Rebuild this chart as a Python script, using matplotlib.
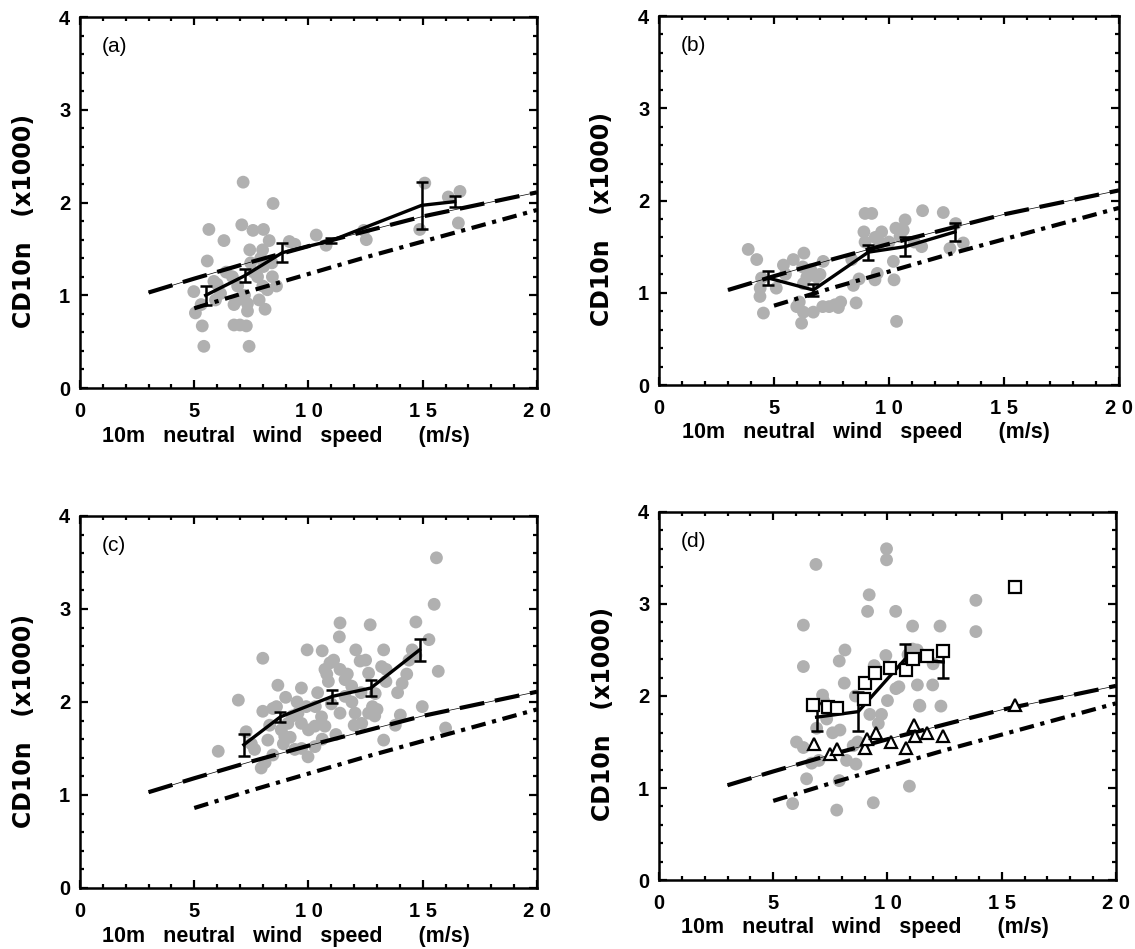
import numpy as np
import matplotlib.pyplot as plt
from matplotlib.ticker import MultipleLocator, FixedLocator, FixedFormatter

# reference curves (same in every panel)
dash_x = [3, 5, 7.5, 10, 12.5, 15, 17.5, 20]
dash_y = [1.03, 1.18, 1.36, 1.53, 1.69, 1.85, 1.98, 2.11]
dd_x = [5, 7.5, 10, 12.5, 15, 17.5, 20]
dd_y = [0.86, 1.05, 1.23, 1.41, 1.58, 1.75, 1.92]

# panel (a)
gray_x_a = [7.14, 8.45, 5.64, 7.08, 7.57, 8.03, 6.3, 8.28, 9.16, 10.34, 10.77, 12.53, 12.42,
            5.57, 7.43, 7.99, 7.91, 7.47, 5.86, 6.67, 4.98, 7.77, 8.42, 8.2, 6.15, 5.93, 6.74,
            7.33, 7.84, 5.05, 7.33, 5.35, 6.74, 7.28, 5.42, 7.4, 15.09, 16.63, 16.12, 16.56,
            14.87, 8.03, 7.0, 6.9, 8.6, 6.0, 6.4, 7.6, 8.0, 8.4, 7.2, 6.9, 9.4, 5.3, 8.1]
gray_y_a = [2.22, 1.99, 1.71, 1.76, 1.70, 1.71, 1.59, 1.59, 1.58, 1.65, 1.54, 1.60, 1.70,
            1.37, 1.49, 1.49, 1.40, 1.35, 1.15, 1.20, 1.04, 1.20, 1.20, 1.06, 1.02, 0.95, 0.90,
            0.91, 0.95, 0.81, 0.83, 0.67, 0.68, 0.67, 0.45, 0.45, 2.21, 2.12, 2.06, 1.78,
            1.71, 1.31, 0.68, 1.10, 1.10, 1.12, 1.25, 1.25, 1.10, 1.35, 1.00, 0.95, 1.55,
            0.90, 0.85]
mean_x_a = [5.5, 7.2, 8.86, 11.0, 14.95, 16.4]
mean_y_a = [1.0, 1.21, 1.46, 1.59, 1.97, 2.01]
err_a = [0.1, 0.07, 0.1, 0.03, 0.25, 0.06]

# panel (b)
gray_x_b = [3.88, 4.25, 4.46, 4.39, 4.54, 5.41, 5.84, 6.3, 6.25, 6.43, 6.86, 6.28, 5.99, 6.28,
            6.71, 6.2, 7.12, 7.65, 7.14, 8.38, 8.45, 8.57, 8.96, 9.25, 8.91, 8.96, 9.68, 9.61,
            9.49, 9.39, 10.19, 10.22, 10.7, 10.62, 10.48, 11.42, 11.46, 12.36, 12.65, 13.23,
            10.33, 7.8, 5.1, 5.5, 6.6, 7.0, 7.4, 7.9, 8.7, 9.4, 10.0, 10.3, 11.1, 12.9, 4.4,
            6.1]
gray_y_b = [1.47, 1.36, 1.16, 0.96, 0.78, 1.30, 1.36, 1.43, 1.28, 1.17, 1.17, 1.10, 0.85, 0.79,
            0.79, 0.67, 0.85, 0.87, 1.34, 1.36, 1.08, 0.89, 1.86, 1.86, 1.66, 1.55, 1.66, 1.54,
            1.21, 1.14, 1.34, 1.14, 1.79, 1.68, 1.61, 1.50, 1.89, 1.87, 1.48, 1.54,
            0.69, 0.84, 1.05, 1.20, 1.25, 1.20, 0.85, 0.90, 1.15, 1.60, 1.55, 1.70, 1.55,
            1.75, 1.05, 0.90]
mean_x_b = [4.75, 6.71, 9.1, 10.7, 12.87]
mean_y_b = [1.16, 1.03, 1.44, 1.50, 1.66]
err_b = [0.08, 0.07, 0.08, 0.1, 0.1]

# panel (c)
gray_x_c = [15.6, 15.5, 14.7, 11.38, 12.7, 11.35, 15.27, 8.0, 9.94, 12.07, 13.29, 14.54, 12.26,
            10.94, 10.72, 11.38, 13.2, 14.4, 15.68, 12.63, 8.66, 9.69, 10.87, 11.6, 13.39, 14.1,
            6.93, 11.6, 8.0, 8.44, 9.1, 9.69, 10.28, 10.72, 11.38, 12.04, 12.63, 13.0, 14.98,
            14.02, 16.0, 8.22, 8.96, 9.4, 10.28, 8.44, 13.29, 9.98, 6.05, 7.64, 7.93, 7.27,
            8.81, 10.57, 12.33, 9.54, 12.92, 11.89, 10.3, 11.0, 9.2,
            9.5, 9.9, 10.4, 10.8, 11.1, 11.7, 12.3, 12.8, 9.0, 8.6, 9.3, 10.0, 10.6, 11.2,
            12.0, 12.9, 13.4, 13.9, 14.3, 14.7, 8.3, 8.9, 11.9, 10.6, 12.5, 9.7, 13.8, 7.5, 8.1]
gray_y_c = [3.55, 3.05, 2.86, 2.85, 2.83, 2.70, 2.67, 2.47, 2.56, 2.56, 2.56, 2.56, 2.44,
            2.42, 2.35, 2.35, 2.38, 2.45, 2.33, 2.31, 2.18, 2.15, 2.22, 2.24, 2.22, 2.20,
            2.02, 2.06, 1.90, 1.93, 1.77, 1.77, 1.74, 1.74, 1.88, 1.88, 1.88, 1.92, 1.95,
            1.86, 1.72, 1.59, 1.63, 1.49, 1.52, 1.43, 1.59, 1.41, 1.47, 1.49, 1.29, 1.68,
            1.70, 1.84, 1.77, 1.88, 2.09, 2.17, 1.95, 1.98, 1.62,
            2.00, 1.95, 2.10, 2.30, 2.45, 2.30, 2.10, 1.95, 2.05, 1.95, 1.85, 1.70, 1.60, 1.65,
            1.75, 1.85, 2.35, 2.10, 2.30, 2.50, 1.75, 1.55, 2.00, 2.55, 2.45, 1.50, 1.75, 1.55,
            1.35]
mean_x_c = [7.17, 8.77, 11.04, 12.73, 14.86]
mean_y_c = [1.54, 1.84, 2.06, 2.15, 2.56]
err_c = [0.12, 0.05, 0.07, 0.09, 0.12]

# panel (d)
gray_x_d = [6.87, 9.96, 9.96, 9.2, 9.13, 10.36, 6.32, 11.1, 12.3, 13.87, 13.87, 8.14, 7.89,
            9.93, 11.1, 6.32, 9.42, 8.11, 10.37, 11.31, 11.98, 7.16, 9.23, 9.74, 11.42, 12.34,
            7.92, 6.02, 6.32, 6.68, 8.21, 8.62, 6.46, 7.89, 10.96, 5.85, 9.38, 7.78, 7.34, 8.5,
            7.2, 6.9, 7.6, 8.6, 9.6, 10.0, 10.5, 10.9, 11.3, 12.0, 11.4, 8.7, 7.0]
gray_y_d = [3.43, 3.60, 3.48, 3.10, 2.92, 2.92, 2.77, 2.76, 2.76, 3.04, 2.70, 2.50, 2.38,
            2.44, 2.51, 2.32, 2.33, 2.14, 2.08, 2.12, 2.12, 2.01, 1.80, 1.80, 1.89, 1.89,
            1.63, 1.50, 1.44, 1.27, 1.30, 1.26, 1.10, 1.08, 1.02, 0.83, 0.84, 0.76, 1.75, 1.46,
            1.95, 1.65, 1.60, 2.00, 1.70, 1.95, 2.10, 2.45, 2.50, 2.35, 1.90, 1.50, 1.30]
sq_x_d = [6.75, 7.41, 7.78, 9.02, 9.45, 8.97, 10.11, 10.80, 11.13, 11.74, 12.41, 15.58]
sq_y_d = [1.90, 1.88, 1.87, 2.14, 2.25, 1.97, 2.30, 2.28, 2.40, 2.44, 2.49, 3.19]
tri_x_d = [6.78, 7.48, 7.80, 9.02, 9.09, 9.48, 10.14, 10.80, 11.16, 11.20, 11.74, 12.44, 15.58]
tri_y_d = [1.48, 1.37, 1.42, 1.43, 1.53, 1.60, 1.50, 1.43, 1.69, 1.57, 1.60, 1.57, 1.90]
mean_x_d = [6.90, 8.72, 10.77, 12.44]
mean_y_d = [1.77, 1.83, 2.40, 2.37]
err_d = [0.15, 0.21, 0.16, 0.17]

xtick_vals = [0, 5, 10, 15, 20]
xtick_labels = ['0', '5', '1 0', '1 5', '2 0']
ytick_vals = [0, 1, 2, 3, 4]
ytick_labels = ['0', '1', '2', '3', '4']

fig = plt.figure(figsize=(11.35, 9.49), dpi=100)
positions = [[0.0705, 0.5911, 0.4026, 0.3909],
             [0.5806, 0.5943, 0.4053, 0.3888],
             [0.0705, 0.0643, 0.4026, 0.3920],
             [0.5806, 0.0727, 0.4026, 0.3878]]

panels = [('(a)', gray_x_a, gray_y_a, mean_x_a, mean_y_a, err_a),
          ('(b)', gray_x_b, gray_y_b, mean_x_b, mean_y_b, err_b),
          ('(c)', gray_x_c, gray_y_c, mean_x_c, mean_y_c, err_c),
          ('(d)', gray_x_d, gray_y_d, mean_x_d, mean_y_d, err_d)]

tickfont = {'family': 'Liberation Sans', 'weight': 'bold', 'size': 14.5}

for pos, (lab, gx, gy, mx, my, me) in zip(positions, panels):
    ax = fig.add_axes(pos)
    ax.scatter(gx, gy, s=85, color='#b0b0b0', edgecolors='none', zorder=1)
    # thin line under the dashes, like the scan
    ax.plot(dash_x, dash_y, color='k', lw=0.5, zorder=2)
    ax.plot(dash_x, dash_y, color='k', lw=3, dashes=(6, 2.6), zorder=2)
    ax.plot(dd_x, dd_y, color='k', lw=3, dashes=(3.5, 1.6, 1, 1.6), zorder=2)
    ax.errorbar(mx, my, yerr=me, color='k', lw=2.4, elinewidth=1.8,
                capsize=4, capthick=1.8, zorder=3)
    if lab == '(d)':
        ax.plot(sq_x_d, sq_y_d, ls='none', marker='s', ms=8, mfc='white',
                mec='k', mew=1.6, zorder=4)
        ax.plot(tri_x_d, tri_y_d, ls='none', marker='^', ms=8.5, mfc='white',
                mec='k', mew=1.6, zorder=4)

    ax.set_xlim(0, 20)
    ax.set_ylim(0, 4)
    ax.xaxis.set_major_locator(FixedLocator(xtick_vals))
    ax.xaxis.set_major_formatter(FixedFormatter(xtick_labels))
    ax.yaxis.set_major_locator(FixedLocator(ytick_vals))
    ax.yaxis.set_major_formatter(FixedFormatter(ytick_labels))
    ax.xaxis.set_minor_locator(MultipleLocator(1))
    ax.yaxis.set_minor_locator(MultipleLocator(0.2))
    ax.tick_params(which='both', direction='in', top=True, right=True, width=1.6)
    ax.tick_params(which='major', length=6)
    ax.tick_params(which='minor', length=3)
    ax.tick_params(axis='x', pad=10)
    ax.tick_params(axis='y', pad=7)
    for t in ax.get_xticklabels() + ax.get_yticklabels():
        t.set_fontproperties(tickfont)
    for s in ax.spines.values():
        s.set_linewidth(1.8)

    ax.set_xlabel('10m   neutral   wind   speed      (m/s)', fontfamily='Liberation Sans',
                  fontweight='bold', fontsize=15.5, va='center')
    ax.xaxis.set_label_coords(0.45, -0.13)
    ax.set_ylabel('CD10n   (x1000)', fontfamily='DejaVu Sans', fontweight='bold',
                  fontsize=17, va='center')
    ax.yaxis.set_label_coords(-0.123, 0.45)
    ax.text(0.048, 0.945, lab, transform=ax.transAxes, fontfamily='Liberation Sans',
            fontsize=15, va='top', ha='left')

plt.savefig('out.png', dpi=100)
